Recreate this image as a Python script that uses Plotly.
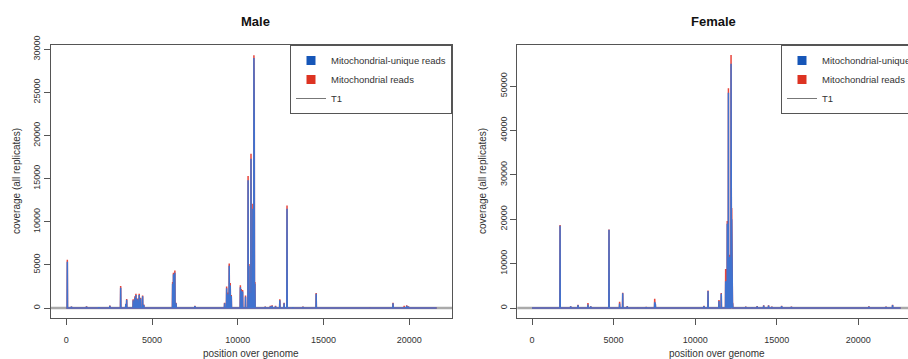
import plotly.graph_objects as go

# ---------------- data ----------------
male_pos = [60, 300, 1180, 1900, 2540, 3170, 3470, 3520, 3900, 4000, 4060, 4150, 4250, 4330, 4450, 4520,
            6200, 6250, 6330, 6400, 7500, 9230, 9350, 9420, 9500, 9560, 9620, 10150, 10200, 10280, 10450,
            10600, 10650, 10700, 10770, 10820, 10880, 10940, 10960, 11000, 11600, 11900, 12000, 12200,
            12450, 12700, 12870, 13200, 13800, 14570, 17700, 19050, 19700, 19850, 19950]
male_total = [5600, 150, 180, 100, 280, 2550, 500, 1050, 1000, 1350, 1650, 1100, 1650, 1200, 1450, 400,
              3000, 4100, 4350, 600, 250, 600, 2500, 1800, 5150, 2900, 1500, 2650, 2200, 2100, 1450,
              15300, 5100, 1900, 17900, 900, 12100, 29300, 24000, 3000, 150, 250, 300, 250,
              1000, 600, 11900, 100, 150, 1750, 80, 600, 250, 300, 200]
male_unique = [5350, 150, 150, 80, 250, 2350, 450, 950, 900, 1200, 1500, 1000, 1500, 1100, 1350, 350,
               2800, 3900, 4100, 550, 220, 550, 2300, 1600, 4900, 2600, 1400, 2400, 2000, 1900, 1300,
               14800, 4900, 1700, 17300, 800, 11500, 29000, 20500, 2800, 120, 200, 250, 200,
               900, 550, 11500, 100, 120, 1650, 60, 550, 100, 250, 150]
male_end = 21600

female_pos = [100, 1720, 2370, 2820, 3430, 3600, 4720, 5370, 5560, 5840, 6500, 7000, 7520, 7560, 8200,
              10540, 10790, 11460, 11600, 11870, 11920, 11970, 12040, 12100, 12200, 12240, 12300,
              13100, 13500, 13800, 14200, 14500, 14700, 15300, 15900, 20650, 21700, 22100]
female_total = [150, 18700, 400, 700, 1100, 400, 17700, 1400, 3450, 450, 150, 250, 2100, 900, 100,
                500, 3950, 1800, 3350, 8800, 4500, 19600, 49500, 12000, 57000, 22500, 1200,
                300, 200, 450, 600, 600, 300, 500, 300, 350, 300, 700]
female_unique = [100, 18500, 350, 650, 800, 350, 17600, 1000, 3300, 400, 100, 200, 1300, 800, 80,
                 450, 3800, 1600, 3200, 6000, 4000, 19000, 48500, 11500, 55000, 20000, 1000,
                 250, 150, 400, 550, 550, 250, 450, 250, 300, 250, 650]
female_end = 22600

x_ticks = [0, 5000, 10000, 15000, 20000]
male_y_ticks = [0, 5000, 10000, 15000, 20000, 25000, 30000]
female_y_ticks = [0, 10000, 20000, 30000, 40000, 50000]

titles = ["Male", "Female"]
x_title = "position over genome"
y_title = "coverage (all replicates)"
legend_names = ["Mitochondrial-unique reads", "Mitochondrial reads", "T1"]

BLUE = "#4072cf"
RED = "#e8453c"
BLUE_KEY = "#1656b8"
RED_KEY = "#dd3322"
GREY = "#aaaaaa"
FONT = "Liberation Sans, Arial, sans-serif"


def spikes(pos, vals, end, half=12):
    xs, ys = [0], [0]
    for p, v in zip(pos, vals):
        xs += [p - half, p, p + half]
        ys += [0, v, 0]
    xs.append(end)
    ys.append(0)
    return xs, ys


fig = go.Figure()

panels = [
    dict(pos=male_pos, tot=male_total, uni=male_unique, end=male_end, xa="x", ya="y", leg="legend"),
    dict(pos=female_pos, tot=female_total, uni=female_unique, end=female_end, xa="x2", ya="y2", leg="legend2"),
]

for p in panels:
    xr, yr = spikes(p["pos"], p["tot"], p["end"])
    xb, yb = spikes(p["pos"], p["uni"], p["end"])
    fig.add_trace(go.Scatter(x=xr, y=yr, mode="lines", line=dict(color=RED, width=1.5),
                             xaxis=p["xa"], yaxis=p["ya"], showlegend=False, hoverinfo="skip"))
    fig.add_trace(go.Scatter(x=xb, y=yb, mode="lines", line=dict(color=BLUE, width=1.5),
                             xaxis=p["xa"], yaxis=p["ya"], showlegend=False, hoverinfo="skip"))
    # legend keys
    fig.add_trace(go.Scatter(x=[None], y=[None], mode="markers", name=legend_names[0],
                             marker=dict(symbol="square", size=9, color=BLUE_KEY),
                             xaxis=p["xa"], yaxis=p["ya"], legend=p["leg"]))
    fig.add_trace(go.Scatter(x=[None], y=[None], mode="markers", name=legend_names[1],
                             marker=dict(symbol="square", size=9, color=RED_KEY),
                             xaxis=p["xa"], yaxis=p["ya"], legend=p["leg"]))
    fig.add_trace(go.Scatter(x=[None], y=[None], mode="lines", name=legend_names[2],
                             line=dict(color="#777777", width=1),
                             xaxis=p["xa"], yaxis=p["ya"], legend=p["leg"]))
    # T1 reference line at zero
    fig.add_shape(type="line", xref=p["xa"] + " domain", yref=p["ya"], x0=0, x1=1, y0=0, y1=0,
                  line=dict(color=GREY, width=2.5), layer="below")

W, H = 908, 359
T, B = 45, 41
PH = H - T - B


def py(ypx):
    return (H - B - ypx) / PH


axis_common = dict(showline=True, linecolor="#555555", linewidth=1, ticks="outside", ticklen=6,
                   tickcolor="#555555", tickfont=dict(family=FONT, size=9, color="#333333"),
                   showgrid=False, zeroline=False, tickformat="d")


def ann(text, x, y, size, color, angle=0):
    return dict(text=text, x=x / W, y=py(y), xref="paper", yref="paper", showarrow=False,
                xanchor="center", yanchor="middle", textangle=angle,
                font=dict(family=FONT, size=size, color=color))


fig.update_layout(
    width=W, height=H,
    margin=dict(l=0, r=0, t=T, b=B, autoexpand=False),
    paper_bgcolor="white", plot_bgcolor="white",
    font=dict(family=FONT, color="#333333"),
    xaxis=dict(domain=[51 / W, 452 / W], range=[-892, 22490], tickvals=x_ticks, mirror=True,
               anchor="y", ticklabelstandoff=7, **axis_common),
    yaxis=dict(domain=[0, 1], range=[-1160, 30498], tickvals=male_y_ticks, tickangle=-90, mirror=True,
               anchor="x", **axis_common),
    xaxis2=dict(domain=[517.3 / W, 1.0], range=[-901, 23046], tickvals=x_ticks, mirror=True,
                anchor="y2", ticklabelstandoff=7, **axis_common),
    yaxis2=dict(domain=[0, 1], range=[-2252, 59234], tickvals=female_y_ticks, tickangle=-90, mirror=False,
                anchor="x2", **axis_common),
    legend=dict(x=452 / W, xanchor="right", y=1, yanchor="top", xref="paper", yref="paper",
                bgcolor="white", bordercolor="#555555", borderwidth=1,
                font=dict(family=FONT, size=9.5, color="#333333"), tracegroupgap=0,
                itemwidth=30),
    legend2=dict(x=781 / W, xanchor="left", y=1, yanchor="top", xref="paper", yref="paper",
                 bgcolor="white", bordercolor="#555555", borderwidth=1,
                 font=dict(family=FONT, size=9.5, color="#333333"), tracegroupgap=0,
                 itemwidth=30),
    annotations=[
        ann("<b>" + titles[0] + "</b>", 255, 21, 13, "#111111"),
        ann("<b>" + titles[1] + "</b>", 713, 21, 13, "#111111"),
        ann(x_title, 251, 353, 10, "#333333"),
        ann(x_title, 717, 353, 10, "#333333"),
        ann(y_title, 16, 181, 10, "#333333", -90),
        ann(y_title, 482, 181, 10, "#333333", -90),
    ],
)

fig.write_html("out.html", post_script="document.body.style.margin='0px';",
               config={"displayModeBar": False})
